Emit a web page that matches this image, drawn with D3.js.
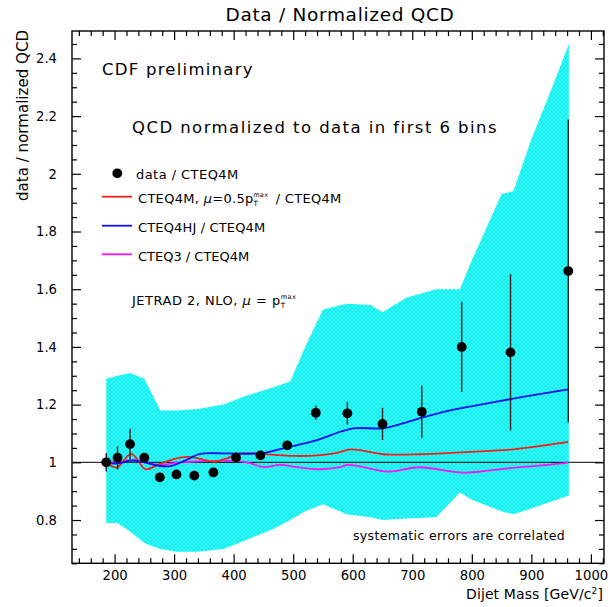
<!DOCTYPE html>
<html>
<head>
<meta charset="utf-8">
<script src="https://cdn.jsdelivr.net/npm/d3@7"></script>
<style>
  html, body { margin: 0; padding: 0; background: #fff; }
  svg text { font-family: "DejaVu Sans", sans-serif; fill: #000; }
</style>
</head>
<body>
<svg id="chart" width="610" height="607"></svg>
<script>
// Measured data / CTEQ4M ratio per dijet-mass bin
const dataMass  = [186, 205, 226, 250, 276, 304, 334, 366, 404, 445, 490, 538, 591, 650, 716, 783, 865, 962];
const dataRatio = [1.000, 1.016, 1.063, 1.016, 0.948, 0.958, 0.954, 0.965, 1.017, 1.024, 1.059, 1.172, 1.170, 1.133, 1.175, 1.400, 1.381, 1.663];
const dataErr   = [0.032, 0.040, 0.053, 0.015, 0.010, 0.010, 0.010, 0.010, 0.010, 0.010, 0.010, 0.025, 0.039, 0.056, 0.091, 0.156, 0.271, 0.525];

// Correlated systematic error band
const bandMass  = [186, 205, 226, 250, 262, 277, 305, 340, 383, 420, 467, 495, 520, 550, 590, 630, 650, 690, 740, 780, 800, 850, 870, 900, 935, 963];
const bandLow   = [0.79, 0.79, 0.76, 0.72, 0.71, 0.70, 0.69, 0.69, 0.70, 0.73, 0.77, 0.80, 0.83, 0.855, 0.82, 0.81, 0.80, 0.805, 0.81, 0.895, 0.87, 0.83, 0.82, 0.84, 0.865, 0.885];
const bandHigh  = [1.29, 1.30, 1.31, 1.29, 1.24, 1.18, 1.18, 1.185, 1.20, 1.23, 1.26, 1.28, 1.40, 1.53, 1.55, 1.545, 1.52, 1.57, 1.60, 1.60, 1.70, 1.93, 1.94, 2.12, 2.30, 2.45];

// Theory curves relative to CTEQ4M
const redMass  = [187, 204, 228, 252, 272, 294, 322, 344, 366, 389, 406, 440, 473, 507, 546, 574, 596, 618, 651, 713, 797, 870, 927, 962];
const redRatio = [0.998, 0.982, 1.029, 0.976, 0.991, 1.008, 1.019, 1.012, 1.002, 1.014, 1.029, 1.031, 1.025, 1.022, 1.025, 1.033, 1.045, 1.040, 1.028, 1.028, 1.036, 1.045, 1.060, 1.071];

const blueMass  = [187, 206, 226, 248, 271, 294, 315, 344, 383, 445, 473, 507, 540, 579, 601, 651, 675, 713, 769, 826, 881, 962];
const blueRatio = [0.998, 0.996, 1.006, 1.001, 0.989, 0.987, 1.003, 1.029, 1.031, 1.031, 1.043, 1.060, 1.077, 1.106, 1.118, 1.118, 1.129, 1.153, 1.183, 1.204, 1.225, 1.253];

const magMass  = [187, 210, 235, 255, 277, 298, 327, 356, 406, 428, 450, 478, 507, 540, 579, 591, 618, 658, 713, 786, 860, 927, 962];
const magRatio = [0.998, 1.003, 1.008, 0.998, 0.991, 0.997, 1.002, 1.004, 1.004, 0.997, 0.983, 0.991, 0.983, 0.976, 0.983, 0.991, 0.983, 0.968, 0.983, 0.964, 0.979, 0.991, 0.999];

// Axis ticks
const xMajor = [200, 300, 400, 500, 600, 700, 800, 900, 1000];
const yMajor = [0.8, 1.0, 1.2, 1.4, 1.6, 1.8, 2.0, 2.2, 2.4];

const svg = d3.select("#chart");
const plotL = 72, plotR = 604, plotT = 31, plotB = 563.3;
const x = d3.scaleLinear().domain([128.5, 1022]).range([plotL, plotR]);
const y = d3.scaleLinear().domain([0.65, 2.495]).range([plotB, plotT]);

const xMinor = d3.range(140, 1021, 20).filter(v => v % 100 !== 0);
const yMinor = d3.range(0.65, 2.49, 0.05).map(v => +v.toFixed(2)).filter(v => Math.abs(v * 5 - Math.round(v * 5)) > 1e-6);

// cross-hatch fill for the systematic band
const defs = svg.append("defs");
const pat = defs.append("pattern").attr("id", "hatch")
  .attr("patternUnits", "userSpaceOnUse").attr("width", 4).attr("height", 4);
pat.append("rect").attr("width", 4).attr("height", 4).attr("fill", "#ffffff");
pat.append("path").attr("d", "M0,0L4,4M4,0L0,4")
  .attr("stroke", "#00f2f2").attr("stroke-width", 1.7);

const band = bandMass.map((m, i) => ({ m, lo: bandLow[i], hi: bandHigh[i] }));
svg.append("path").datum(band)
  .attr("fill", "url(#hatch)")
  .attr("d", d3.area().x(d => x(d.m)).y0(d => y(d.lo)).y1(d => y(d.hi)));

// unity reference line
svg.append("line")
  .attr("x1", plotL).attr("x2", plotR).attr("y1", y(1)).attr("y2", y(1))
  .attr("stroke", "#000").attr("stroke-width", 1);

// theory curves
const curve = d3.line().x(d => x(d[0])).y(d => y(d[1])).curve(d3.curveCatmullRom.alpha(0.5));
const curves = [
  { m: magMass, r: magRatio, c: "#ff10ff" },
  { m: redMass, r: redRatio, c: "#f0201a" },
  { m: blueMass, r: blueRatio, c: "#1010f0" }
];
curves.forEach(s => {
  svg.append("path").datum(s.m.map((m, i) => [m, s.r[i]]))
    .attr("fill", "none").attr("stroke", s.c).attr("stroke-width", 1.8)
    .attr("d", curve);
});

// data points with error bars
const pts = dataMass.map((m, i) => ({ m, r: dataRatio[i], e: dataErr[i] }));
svg.append("g").selectAll("line").data(pts).join("line")
  .attr("x1", d => x(d.m)).attr("x2", d => x(d.m))
  .attr("y1", d => y(d.r - d.e)).attr("y2", d => y(d.r + d.e))
  .attr("stroke", "#222").attr("stroke-width", 1.4);
svg.append("g").selectAll("circle").data(pts).join("circle")
  .attr("cx", d => x(d.m)).attr("cy", d => y(d.r)).attr("r", 4.9)
  .attr("fill", "#000");

// axes: ticks point inward on all four sides
function styleAxis(g) {
  g.select(".domain").remove();
  g.selectAll(".tick line").attr("stroke", "#000").attr("stroke-width", 1.2);
  g.selectAll("text").style("font-family", "'DejaVu Sans', sans-serif").style("font-size", "13.2px").attr("fill", "#000");
}
svg.append("g").attr("transform", `translate(0,${plotB})`)
  .call(d3.axisBottom(x).tickValues(xMajor).tickSize(-9).tickPadding(7).tickFormat(d3.format("d")))
  .call(styleAxis);
svg.append("g").attr("transform", `translate(0,${plotB})`)
  .call(d3.axisBottom(x).tickValues(xMinor).tickSize(-5).tickFormat(""))
  .call(styleAxis);
svg.append("g").attr("transform", `translate(0,${plotT})`)
  .call(d3.axisTop(x).tickValues(xMajor).tickSize(-9).tickFormat(""))
  .call(styleAxis);
svg.append("g").attr("transform", `translate(0,${plotT})`)
  .call(d3.axisTop(x).tickValues(xMinor).tickSize(-5).tickFormat(""))
  .call(styleAxis);
svg.append("g").attr("transform", `translate(${plotL},0)`)
  .call(d3.axisLeft(y).tickValues(yMajor).tickSize(-9).tickPadding(15).tickFormat(d => String(+d.toFixed(1))))
  .call(styleAxis);
svg.append("g").attr("transform", `translate(${plotL},0)`)
  .call(d3.axisLeft(y).tickValues(yMinor).tickSize(-5).tickFormat(""))
  .call(styleAxis);
svg.append("g").attr("transform", `translate(${plotR},0)`)
  .call(d3.axisRight(y).tickValues(yMajor).tickSize(-9).tickFormat(""))
  .call(styleAxis);
svg.append("g").attr("transform", `translate(${plotR},0)`)
  .call(d3.axisRight(y).tickValues(yMinor).tickSize(-5).tickFormat(""))
  .call(styleAxis);

svg.append("rect")
  .attr("x", plotL).attr("y", plotT).attr("width", plotR - plotL).attr("height", plotB - plotT)
  .attr("fill", "none").attr("stroke", "#000").attr("stroke-width", 1.4);

// text helpers
function fitWidth(sel, w) {
  const n = sel.node();
  const len = n.getComputedTextLength();
  const k = n.textContent.length;
  if (k > 1) sel.attr("letter-spacing", ((w - len) / k).toFixed(3));
  return sel;
}
function label(px, py, str, size, anchor) {
  return svg.append("text").attr("x", px).attr("y", py)
    .attr("text-anchor", anchor || "start").style("font-size", size + "px").text(str);
}

fitWidth(label(340, 21, "Data / Normalized QCD", 18.5, "middle"), 229);
fitWidth(label(603, 599, "", 14, "end")
  .call(t => { t.append("tspan").text("Dijet Mass [GeV/c");
               t.append("tspan").attr("dy", -5).style("font-size", "9px").text("2");
               t.append("tspan").attr("dy", 5).text("]"); }), 137);

const yTitle = svg.append("text")
  .attr("transform", "translate(28,30) rotate(-90)")
  .attr("text-anchor", "end").style("font-size", "15px")
  .text("data / normalized QCD");
fitWidth(yTitle, 171);

fitWidth(label(102, 75, "CDF preliminary", 16.5), 151.7);
fitWidth(label(132, 133, "QCD normalized to data in first 6 bins", 16.5), 366);

// legend
const legX0 = 102, legX1 = 132, legTx = 138;
svg.append("circle").attr("cx", 117.3).attr("cy", 173.3).attr("r", 4.9).attr("fill", "#000");
fitWidth(label(136, 178.5, "data / CTEQ4M", 13), 102.7);

function ptmax(t, size) {
  t.append("tspan").text("p");
  t.append("tspan").attr("dy", 3).style("font-size", (size * 0.55) + "px").text("T");
  t.append("tspan").attr("dx", -5).attr("dy", -9).style("font-size", (size * 0.5) + "px").text("max");
  return t;
}

const legend = [
  { c: "#f0201a", yl: 196.7 },
  { c: "#1010f0", yl: 225.7 },
  { c: "#ff10ff", yl: 254.3 }
];
legend.forEach(l => {
  svg.append("line").attr("x1", legX0).attr("x2", legX1).attr("y1", l.yl).attr("y2", l.yl)
    .attr("stroke", l.c).attr("stroke-width", 1.8);
});

const redLab = label(legTx, 203.3, "", 13);
redLab.append("tspan").text("CTEQ4M, ");
redLab.append("tspan").style("font-style", "italic").text("μ");
redLab.append("tspan").text("=0.5");
ptmax(redLab, 13);
redLab.append("tspan").attr("dy", 6).attr("dx", 3).text(" / CTEQ4M");
redLab.attr("letter-spacing", 0.3);

fitWidth(label(legTx, 232, "CTEQ4HJ / CTEQ4M", 13), 127.3);
fitWidth(label(legTx, 260.7, "CTEQ3 / CTEQ4M", 13), 111.3);

const jet = label(132, 305, "", 13);
jet.append("tspan").text("JETRAD 2, NLO, ");
jet.append("tspan").style("font-style", "italic").text("μ");
jet.append("tspan").text(" = ");
ptmax(jet, 13);
jet.attr("letter-spacing", 0.5);

fitWidth(label(353, 540, "systematic errors are correlated", 12.5), 212);
</script>
</body>
</html>
